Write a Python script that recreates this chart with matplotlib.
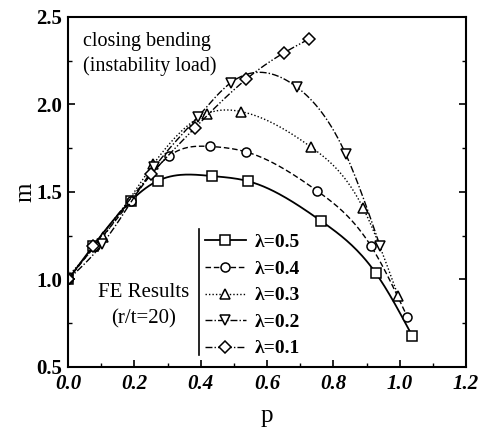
import numpy as np
import matplotlib
matplotlib.use("Agg")
import matplotlib.pyplot as plt
from matplotlib.lines import Line2D

# ---- data ----
p05 = [0.0, 0.075, 0.19, 0.27, 0.433, 0.544, 0.763, 0.928, 1.038]
m05 = [1.0, 1.19, 1.45, 1.563, 1.591, 1.561, 1.334, 1.036, 0.677]

p04 = [0.0, 0.08, 0.19, 0.305, 0.427, 0.537, 0.751, 0.914, 1.023]
m04 = [1.0, 1.19, 1.45, 1.706, 1.76, 1.729, 1.506, 1.189, 0.786]

p03 = [0.0, 0.105, 0.257, 0.418, 0.522, 0.733, 0.890, 0.995]
m03 = [1.02, 1.243, 1.658, 1.947, 1.959, 1.756, 1.407, 0.907]

p02 = [0.0, 0.102, 0.26, 0.392, 0.49, 0.689, 0.837, 0.941]
m02 = [1.0, 1.2, 1.64, 1.93, 2.123, 2.1, 1.717, 1.19]

p01 = [0.0, 0.076, 0.25, 0.383, 0.537, 0.651, 0.727]
m01 = [1.0, 1.19, 1.6, 1.867, 2.144, 2.295, 2.374]

labels = ["λ=0.5", "λ=0.4", "λ=0.3", "λ=0.2", "λ=0.1"]
xticks = [0.0, 0.2, 0.4, 0.6, 0.8, 1.0, 1.2]
yticks = [0.5, 1.0, 1.5, 2.0, 2.5]


def natural_spline(x, y, n=200):
    x = np.asarray(x, float)
    y = np.asarray(y, float)
    k = len(x)
    h = np.diff(x)
    A = np.zeros((k, k))
    b = np.zeros(k)
    A[0, 0] = 1
    A[-1, -1] = 1
    for i in range(1, k - 1):
        A[i, i - 1] = h[i - 1]
        A[i, i] = 2 * (h[i - 1] + h[i])
        A[i, i + 1] = h[i]
        b[i] = 6 * ((y[i + 1] - y[i]) / h[i] - (y[i] - y[i - 1]) / h[i - 1])
    M = np.linalg.solve(A, b)
    xs = np.linspace(x[0], x[-1], n)
    idx = np.clip(np.searchsorted(x, xs) - 1, 0, k - 2)
    x0, x1 = x[idx], x[idx + 1]
    hh = x1 - x0
    t0 = x1 - xs
    t1 = xs - x0
    ys = (M[idx] * t0 ** 3 / (6 * hh) + M[idx + 1] * t1 ** 3 / (6 * hh)
          + (y[idx] / hh - M[idx] * hh / 6) * t0
          + (y[idx + 1] / hh - M[idx + 1] * hh / 6) * t1)
    return xs, ys


plt.rcParams['font.family'] = ['Liberation Serif', 'DejaVu Serif']
plt.rcParams['mathtext.fontset'] = 'stix'

fig = plt.figure(figsize=(4.86, 4.34), dpi=100)
ax = fig.add_axes([0.14, 0.1544, 0.819, 0.8066])

series = [(p05, m05, 's', '-'),
          (p04, m04, 'o', (0, (4, 2))),
          (p03, m03, '^', (0, (1, 1.5))),
          (p02, m02, 'v', (0, (5, 1.5, 1, 1.5))),
          (p01, m01, 'D', (0, (5, 1.5, 1, 1.5, 1, 1.5)))]

handles = []
for (px, my, mk, ls), lab in zip(series, labels):
    xs, ys = natural_spline(px, my)
    lw = 1.3 if ls == '-' else 1.0
    ax.plot(xs, ys, color='black', lw=lw, linestyle=ls)
    ms = 5.8 if mk == 'D' else 6.5
    ax.plot(px, my, linestyle='none', marker=mk, ms=ms, mfc='white',
            mec='black', mew=1.1)
    handles.append(Line2D([0], [0], color='black', lw=lw, linestyle=ls,
                          marker=mk, ms=ms, mfc='white', mec='black', mew=1.1))

leg = ax.legend(handles, labels, loc='upper left',
                bbox_to_anchor=(0.334, 0.392), frameon=False,
                handlelength=2.1, handletextpad=0.45,
                labelspacing=0.46, borderaxespad=0, borderpad=0.2,
                prop={'weight': 'bold', 'size': 14})
# vertical divider line of the legend block
ax.plot([0.329, 0.329], [0.034, 0.394], transform=ax.transAxes,
        color='black', lw=1.2, clip_on=False)

ax.text(0.189, 0.214, "FE Results", transform=ax.transAxes, ha='center',
        va='center', fontsize=15)
ax.text(0.189, 0.137, "(r/t=20)", transform=ax.transAxes, ha='center',
        va='center', fontsize=15)
ax.text(0.038, 0.929, "closing bending", transform=ax.transAxes, ha='left',
        va='center', fontsize=14.5)
ax.text(0.038, 0.86, "(instability load)", transform=ax.transAxes,
        ha='left', va='center', fontsize=14.5)

ax.set_xlim(0, 1.2)
ax.set_ylim(0.5, 2.5)
ax.set_xticks(xticks)
ax.set_xticklabels([f"{v:.1f}" for v in xticks], fontsize=15,
                   fontweight='bold', fontstyle='italic')
ax.set_yticks(yticks)
ax.set_yticklabels([f"{v:.1f}" for v in yticks], fontsize=15,
                   fontweight='bold')
ax.set_xticks(np.arange(0.1, 1.2, 0.2), minor=True)
ax.set_yticks([0.75, 1.25, 1.75, 2.25], minor=True)
ax.tick_params(which='both', direction='in', top=False, right=True)
ax.tick_params(which='major', length=5, width=1.2)
ax.tick_params(which='minor', length=3, width=1.0)
ax.tick_params(axis='x', pad=5)
ax.tick_params(axis='y', pad=4)
for s in ax.spines.values():
    s.set_linewidth(1.5)

ax.set_xlabel("p", fontsize=18, labelpad=8)
ax.set_ylabel("m", fontsize=18, labelpad=0)

fig.savefig("out.png", dpi=100)
